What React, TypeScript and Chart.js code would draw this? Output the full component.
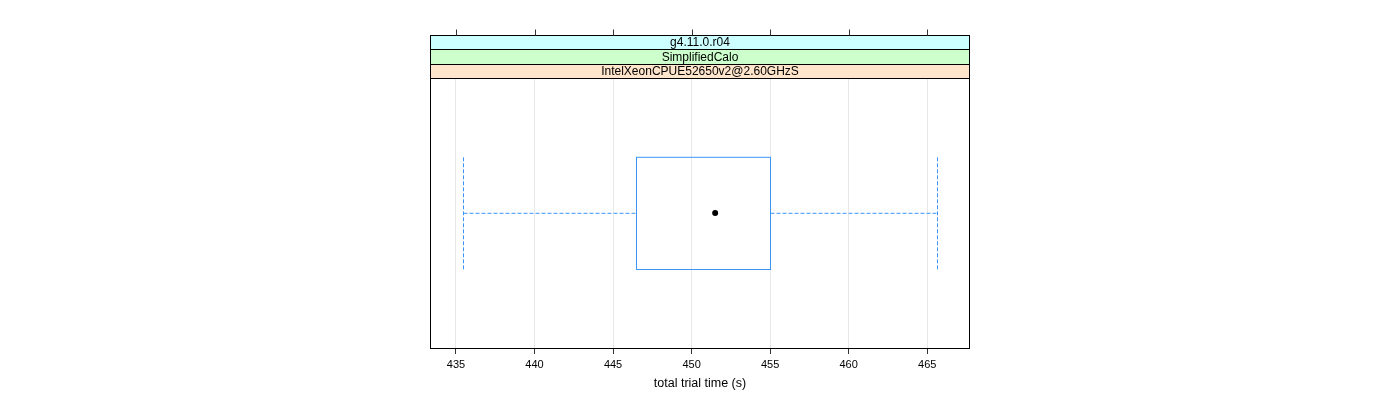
import React, { useEffect, useRef } from "react";
import { Chart, registerables } from "chart.js";

Chart.register(...registerables);

// ---- data ----
const groups = [1];
const whiskerLow = [435.47];
const q1 = [446.44];
const median = [451.5];
const q3 = [455.0];
const whiskerHigh = [465.63];
const xTicks = [435, 440, 445, 450, 455, 460, 465];
const xMin = 433.41;
const xMax = 467.66;
const stripLabels = ["IntelXeonCPUE52650v2@2.60GHzS", "SimplifiedCalo", "g4.11.0.r04"];
const stripColors = ["#ffe5cc", "#ccffcc", "#ccffff"];
const axisTitle = "total trial time (s)";

const FONT = "'Liberation Sans', Arial, Helvetica, sans-serif";
const BOX_COLOR = "#3d94f5";

const latticePlugin = {
  id: "lattice",
  beforeDatasetsDraw(chart: any) {
    const ctx = chart.ctx;
    const xs = chart.scales.x;
    const ys = chart.scales.y;
    const half = 0.25;
    groups.forEach((g, i) => {
      const yc = Math.round(ys.getPixelForValue(g)) + 0.3;
      const yt = Math.round(ys.getPixelForValue(g + half)) + 0.3;
      const yb = Math.round(ys.getPixelForValue(g - half)) + 0.5;
      const xq1 = Math.round(xs.getPixelForValue(q1[i])) + 0.5;
      const xq3 = Math.round(xs.getPixelForValue(q3[i])) + 0.5;
      const xlo = Math.round(xs.getPixelForValue(whiskerLow[i])) + 0.5;
      const xhi = Math.round(xs.getPixelForValue(whiskerHigh[i])) + 0.5;
      ctx.save();
      ctx.lineWidth = 1;
      ctx.strokeStyle = BOX_COLOR;
      ctx.setLineDash([]);
      ctx.strokeRect(xq1, yt, xq3 - xq1, yb - yt);
      ctx.restore();
      ctx.save();
      ctx.lineWidth = 1;
      ctx.strokeStyle = BOX_COLOR;
      ctx.setLineDash([4, 2]);
      ctx.beginPath();
      ctx.moveTo(xlo, yc);
      ctx.lineTo(xq1, yc);
      ctx.moveTo(xq3, yc);
      ctx.lineTo(xhi, yc);
      ctx.stroke();
      ctx.beginPath();
      ctx.moveTo(xlo, yt);
      ctx.lineTo(xlo, yb);
      ctx.moveTo(xhi, yt);
      ctx.lineTo(xhi, yb);
      ctx.stroke();
      ctx.restore();
    });
  },
  afterDraw(chart: any) {
    const ctx = chart.ctx;
    const area = chart.chartArea;
    const xs = chart.scales.x;
    const h = 14.4;
    const stripTop = area.top - h * stripLabels.length;
    ctx.save();
    ctx.lineWidth = 1;
    ctx.strokeStyle = "#000";
    ctx.setLineDash([]);
    const L = Math.round(area.left) - 0.5;
    const R = Math.round(area.right) + 0.5;
    // strips, bottom to top
    stripLabels.forEach((lab, i) => {
      const yb = Math.round(area.top - h * i) + 0.5;
      const yt = Math.round(area.top - h * (i + 1)) + 0.5;
      ctx.fillStyle = stripColors[i];
      ctx.fillRect(L, yt, R - L, yb - yt);
      ctx.strokeRect(L, yt, R - L, yb - yt);
      ctx.fillStyle = "#000";
      ctx.font = `12px ${FONT}`;
      ctx.textAlign = "center";
      ctx.textBaseline = "middle";
      ctx.fillText(lab, (area.left + area.right) / 2, (yt + yb) / 2 + 0.5);
    });
    // panel border
    const T = Math.round(stripTop) + 0.5;
    const B = Math.round(area.bottom) + 0.5;
    ctx.strokeRect(L, T, R - L, B - T);
    // top ticks
    ctx.strokeStyle = "#333";
    ctx.beginPath();
    xs.ticks.forEach((t: any) => {
      const px = Math.round(xs.getPixelForValue(t.value)) + 0.5;
      ctx.moveTo(px, T - 6);
      ctx.lineTo(px, T);
    });
    ctx.stroke();
    ctx.restore();
  },
};

export default function App() {
  const ref = useRef<HTMLCanvasElement | null>(null);
  useEffect(() => {
    if (!ref.current) return;
    const chart = new Chart(ref.current, {
      type: "scatter",
      data: {
        datasets: [
          {
            data: groups.map((g, i) => ({ x: median[i], y: g })),
            pointRadius: 3,
            pointBackgroundColor: "#000",
            pointBorderColor: "#000",
            pointBorderWidth: 0,
          },
        ],
      },
      options: {
        animation: false,
        responsive: false,
        devicePixelRatio: 1,
        layout: { padding: { left: 431, right: 431, top: 78, bottom: 0 } },
        plugins: { legend: { display: false }, tooltip: { enabled: false } },
        scales: {
          x: {
            type: "linear",
            min: xMin,
            max: xMax,
            afterBuildTicks: (scale: any) => {
              scale.ticks = xTicks.map((v) => ({ value: v }));
            },
            afterFit: (scale: any) => {
              scale.height = 52;
            },
            grid: {
              color: "#e8e8e8",
              tickColor: "#333",
              tickLength: 6,
              drawOnChartArea: true,
            },
            border: { display: false },
            ticks: {
              color: "#000",
              padding: 4,
              font: { family: FONT, size: 11 },
              maxRotation: 0,
              callback: (v: any) => String(v),
            },
            title: {
              display: true,
              text: axisTitle,
              color: "#000",
              font: { family: FONT, size: 12.5 },
              padding: { top: 4, bottom: 9 },
            },
          },
          y: {
            type: "linear",
            display: false,
            min: 0.4,
            max: 1.6,
          },
        },
      },
      plugins: [latticePlugin],
    });
    return () => chart.destroy();
  }, []);
  return (
    <div style={{ position: "absolute", left: 0, top: 0, width: 1400, height: 400, background: "#fff" }}>
      <canvas ref={ref} width={1400} height={400} />
    </div>
  );
}
